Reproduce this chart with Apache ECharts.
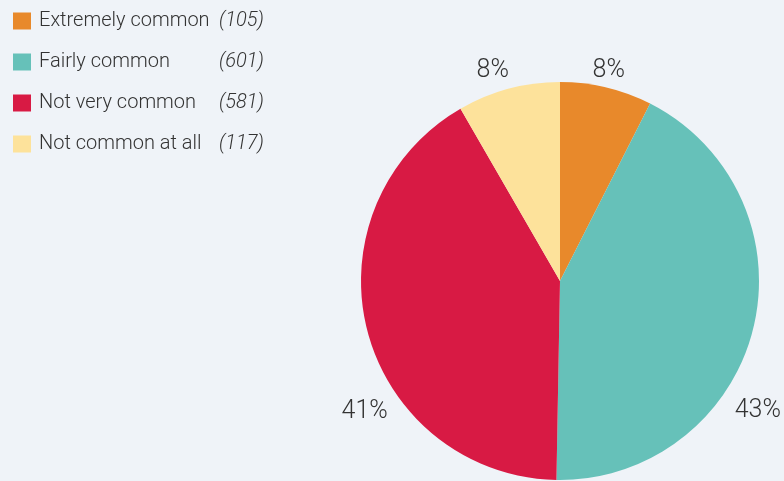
<!DOCTYPE html>
<html>
<head>
<meta charset="utf-8">
<script src="https://cdn.jsdelivr.net/npm/echarts@6/dist/echarts.min.js"></script>
<style>
  html, body { margin: 0; padding: 0; background: #eff3f8; }
  #main { width: 784px; height: 481px; }
</style>
</head>
<body>
<div id="main"></div>
<script>
const categories = ['Extremely common', 'Fairly common', 'Not very common', 'Not common at all']
const counts = [105, 601, 581, 117]
const colors = ['#e8892b', '#66c1b9', '#d81a44', '#fde29b']
// nudge of each percentage label from its default outside spot
const labelShift = [[-22, -3], [-37, 78], [39, 77], [9, -5]]

const chart = echarts.init(document.getElementById('main'))
const font = 'Roboto, "Liberation Sans", sans-serif'

chart.setOption({
  backgroundColor: '#eff3f8',
  animation: false,
  color: colors,
  legend: {
    orient: 'vertical',
    left: 8,
    top: 6,
    itemWidth: 18,
    itemHeight: 17,
    itemGap: 21,
    icon: 'rect',
    formatter(name) {
      const i = categories.indexOf(name)
      return `{n|${name}}{c|(${counts[i]})}`
    },
    textStyle: {
      padding: [0, 0, 0, 3],
      rich: {
        n: { fontFamily: font, fontSize: 20, fontWeight: 300, lineHeight: 20, color: '#333', width: 180 },
        c: { fontFamily: font, fontSize: 20, fontWeight: 300, lineHeight: 20, color: '#333', fontStyle: 'italic' },
      },
    },
  },
  series: [
    {
      type: 'pie',
      center: [560, 281],
      radius: 199,
      startAngle: 90,
      clockwise: true,
      avoidLabelOverlap: false,
      percentPrecision: 0,
      label: {
        show: true,
        position: 'outside',
        formatter: '{d}%',
        fontFamily: font,
        fontSize: 25,
        fontWeight: 300,
        color: '#333',
      },
      labelLine: { show: false, length: 14, length2: 0 },
      labelLayout(params) {
        const s = labelShift[params.dataIndex]
        return { dx: s[0], dy: s[1] }
      },
      data: categories.map((name, i) => ({ name, value: counts[i] })),
    },
  ],
})
</script>
</body>
</html>
